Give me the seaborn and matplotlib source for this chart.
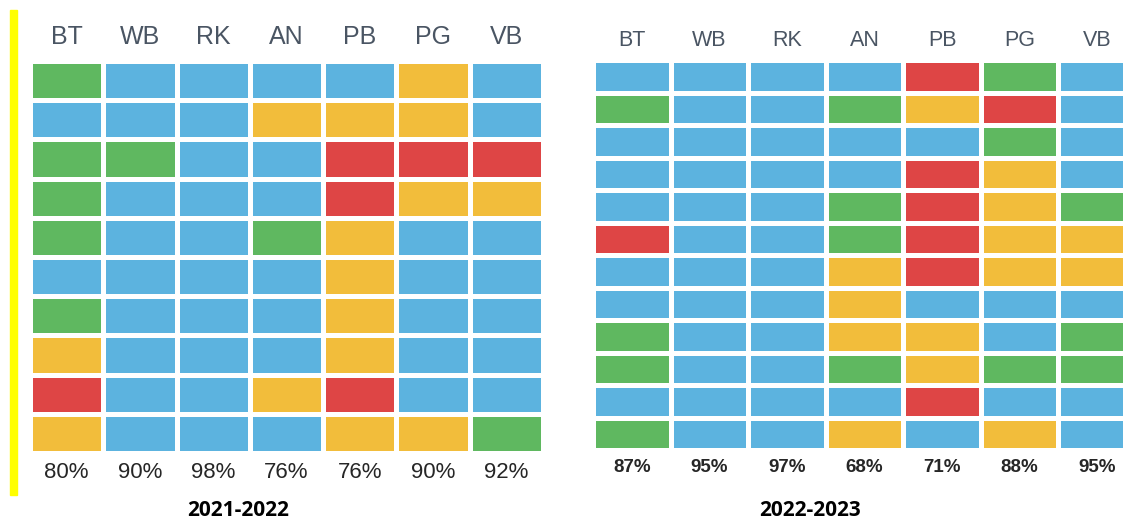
import numpy as np
import pandas as pd
import seaborn as sns
import matplotlib.pyplot as plt
from matplotlib.colors import ListedColormap
from matplotlib.patches import Rectangle

# ------------------------------DATOS------------------------------
columnas = ["BT", "WB", "RK", "AN", "PB", "PG", "VB"]

# B = azul, G = verde, Y = amarillo, R = rojo
grid_2122 = [
    "GBBBBYB",
    "BBBYYYB",
    "GGBBRRR",
    "GBBBRYY",
    "GBBGYBB",
    "BBBBYBB",
    "GBBBYBB",
    "YBBBYBB",
    "RBBYRBB",
    "YBBBYYG",
]
grid_2223 = [
    "BBBBRGB",
    "GBBGYRB",
    "BBBBBGB",
    "BBBBRYB",
    "BBBGRYG",
    "RBBGRYY",
    "BBBYRYY",
    "BBBYBBB",
    "GBBYYBG",
    "GBBGYGG",
    "BBBBRBB",
    "GBBYBYB",
]
pct_2122 = ["80%", "90%", "98%", "76%", "76%", "90%", "92%"]
pct_2223 = ["87%", "95%", "97%", "68%", "71%", "88%", "95%"]
titulos = ["2021-2022", "2022-2023"]

codigos = {"B": 0, "G": 1, "Y": 2, "R": 3}
cmap = ListedColormap(["#5CB3DF", "#5FB860", "#F2BD3B", "#DE4545"])


def a_df(grid):
    return pd.DataFrame([[codigos[c] for c in fila] for fila in grid], columns=columnas)


# ------------------------------FIGURA------------------------------
fig = plt.figure(figsize=(11.23, 5.22), dpi=100)
W, H = 1123, 522

paneles = [
    dict(grid=grid_2122, pct=pct_2122, titulo=titulos[0],
         box=(30, 61, 543, 453), fs_col=18, fs_pct=16, w_pct="normal", y_col=37, y_pct=473, x_tit=238),
    dict(grid=grid_2223, pct=pct_2223, titulo=titulos[1],
         box=(593, 60, 1136, 450), fs_col=15.5, fs_pct=13.5, w_pct="bold", y_col=40, y_pct=467, x_tit=810),
]

for p in paneles:
    x0, y0, x1, y1 = p["box"]
    ax = fig.add_axes([x0 / W, 1 - y1 / H, (x1 - x0) / W, (y1 - y0) / H])
    df = a_df(p["grid"])
    # borde gris fino + separacion blanca encima
    sns.heatmap(df, ax=ax, cmap=cmap, vmin=-0.5, vmax=3.5, cbar=False,
                linewidths=4.0, linecolor="#b0b0b0", xticklabels=False, yticklabels=False)
    sns.heatmap(df, ax=ax, cmap=cmap, vmin=-0.5, vmax=3.5, cbar=False,
                linewidths=2.4, linecolor="white", xticklabels=False, yticklabels=False)
    ax.set_xlabel("")
    ax.set_ylabel("")
    for s in ax.spines.values():
        s.set_visible(False)

    for j, col in enumerate(columnas):
        xc = (x0 + (j + 0.5) * (x1 - x0) / len(columnas)) / W
        fig.text(xc, 1 - p["y_col"] / H, col, ha="center", va="center",
                 fontsize=p["fs_col"], color="#4a5563", family="Liberation Sans")
        fig.text(xc, 1 - p["y_pct"] / H, p["pct"][j], ha="center", va="center",
                 fontsize=p["fs_pct"], fontweight=p["w_pct"], color="#262626",
                 family="Liberation Sans")

    fig.text(p["x_tit"] / W, 1 - 511 / H, p["titulo"], ha="center", va="center",
             fontsize=15, fontweight="bold", color="black", family="Open Sans")

# linea amarilla a la izquierda
fig.add_artist(Rectangle((10 / W, 1 - 495 / H), 7 / W, 485 / H,
                         transform=fig.transFigure, color="#FFFF00", zorder=5))

fig.savefig("out.png", dpi=100)
